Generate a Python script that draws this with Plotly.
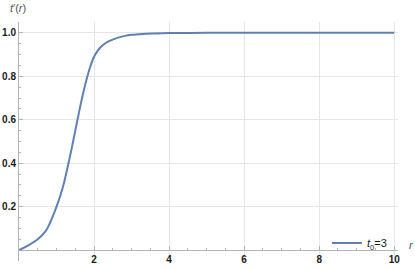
import plotly.graph_objects as go

r_vals = [0, 0.25, 0.5, 0.7, 0.8, 0.9, 1.0, 1.1, 1.2, 1.3, 1.4, 1.5, 1.6, 1.7, 1.8,
          1.9, 2.0, 2.1, 2.2, 2.3, 2.4, 2.6, 2.8, 3.0, 3.3, 3.6, 4.0, 5, 6, 7, 8, 9, 10]
tp_vals = [0, 0.022, 0.05, 0.085, 0.115, 0.155, 0.2, 0.25, 0.31, 0.385, 0.465, 0.55,
           0.635, 0.715, 0.785, 0.845, 0.89, 0.918, 0.938, 0.952, 0.962, 0.976, 0.985,
           0.991, 0.995, 0.997, 0.999, 1, 1, 1, 1, 1, 1]
x_ticks = [2, 4, 6, 8, 10]
y_ticks = [0.2, 0.4, 0.6, 0.8, 1.0]
series_name = "<i>t</i><sub>0</sub>=3"

W, H = 415, 269
ml, mr, mt, mb = 19, 17, 22, 8
yr = [-0.05, 1.05]
pw, ph = W - ml - mr, H - mt - mb

fig = go.Figure()
fig.add_trace(go.Scatter(x=r_vals, y=tp_vals, mode="lines", name=series_name,
                         line=dict(color="#5E81B5", width=2, shape="spline", smoothing=0.8)))

tickfont = dict(family="Liberation Sans", size=10, color="#1a1a1a", weight="bold")
axis_common = dict(showline=True, linecolor="#b3b3b3", linewidth=1,
                   ticks="inside", ticklen=4, tickcolor="#b3b3b3",
                   showgrid=True, gridcolor="#e6e6e6", gridwidth=1, zeroline=False,
                   tickfont=tickfont, automargin=False)
fig.update_layout(
    width=W, height=H,
    margin=dict(l=ml, r=mr, t=mt, b=mb),
    plot_bgcolor="white", paper_bgcolor="white",
    showlegend=True,
    legend=dict(x=(392 - ml) / pw, y=0.015, xanchor="right", yanchor="bottom",
                bgcolor="rgba(255,255,255,0)", font=dict(family="Liberation Sans", size=11, color="#1a1a1a"),
                itemwidth=30, tracegroupgap=0),
    xaxis=dict(range=[0, 10.1], tickvals=x_ticks, ticktext=[str(v) for v in x_ticks],
               anchor="free", position=(0 - yr[0]) / (yr[1] - yr[0]),
               minor=dict(tickmode="linear", tick0=0, dtick=0.5, ticks="inside", ticklen=2,
                          tickcolor="#b3b3b3", showgrid=False),
               **axis_common),
    yaxis=dict(range=yr, tickvals=y_ticks, tickformat=".1f",
               minor=dict(tickmode="linear", tick0=0, dtick=0.05, ticks="inside", ticklen=2,
                          tickcolor="#b3b3b3", showgrid=False),
               **axis_common),
    annotations=[
        dict(text="<i>t</i>′(<i>r</i>)", xref="paper", yref="paper",
             x=(8 - ml) / pw, y=1 + (mt - 8) / ph, xanchor="left", yanchor="middle",
             showarrow=False, font=dict(family="Liberation Sans", size=11, color="#555555")),
        dict(text="<i>r</i>", xref="paper", yref="paper",
             x=(407 - ml) / pw, y=(H - mb - 245) / ph,
             xanchor="left", yanchor="middle",
             showarrow=False, font=dict(family="Liberation Sans", size=11, color="#555555")),
    ],
)
fig.write_html("out.html", config={"displayModeBar": False},
               post_script="document.body.style.margin='0';document.body.style.overflow='hidden';")
